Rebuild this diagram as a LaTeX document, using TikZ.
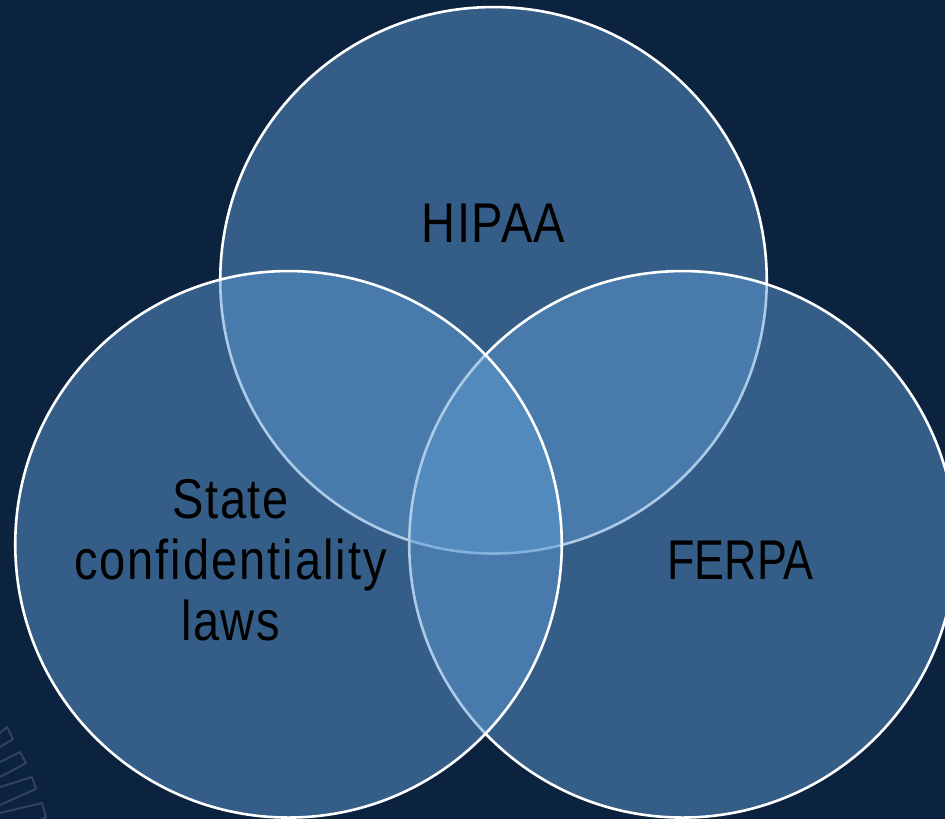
\documentclass[tikz,border=0pt]{standalone}
\usepackage{fontspec}
\setmainfont[FakeStretch=0.84,LetterSpace=2.5,RawFeature={-liga}]{Liberation Sans}
\newfontfamily\narrowlabel[FakeStretch=0.80]{Liberation Sans}
\newfontfamily\widelabel[FakeStretch=0.84,LetterSpace=3.5,RawFeature={-liga}]{Liberation Sans}
\definecolor{bgnavy}{RGB}{12,35,64}
\definecolor{vennblue}{RGB}{92,153,208}
\definecolor{decoline}{RGB}{50,68,92}
\tikzset{
  venn/.style={circle,draw=white,line width=2.6pt,fill=vennblue,fill opacity=0.5,draw opacity=1,
    minimum size=546.5pt,inner sep=0pt,outer sep=0pt},
  lbl/.style={text=black,font=\fontsize{56}{61}\selectfont,align=center,inner sep=0pt},
  deco/.style={draw=decoline,line width=2pt,line join=round}
}
\begin{document}
\begin{tikzpicture}[x=1pt,y=-1pt]
\fill[bgnavy] (0,0) rectangle (945,819);
\useasboundingbox (0,0) rectangle (945,819);
\clip (0,0) rectangle (945,819);
\draw[deco] (0,733) -- (7,727) -- (13,739) -- (0,747);
\draw[deco] (0,762) -- (20,752) -- (26,763) -- (0,777);
\draw[deco] (0,787) -- (32,777) -- (36,789) -- (0,805);
\draw[deco] (0,813) -- (42,803) -- (46,817) -- (38,821);
\node[venn] (hipaa) at (493.5,280.3) {};
\node[venn] (ferpa) at (682.5,544.3) {};
\node[venn] (state) at (288.5,544.3) {};
\node[lbl] (hipaalabel) at (493.5,223) {HIPAA};
\node[lbl] (ferpalabel) at (740.5,560) {\narrowlabel FERPA};
\node[lbl] (statelabel) at (230.5,560) {State\\{\widelabel confidentiality}\\laws};
\end{tikzpicture}
\end{document}
